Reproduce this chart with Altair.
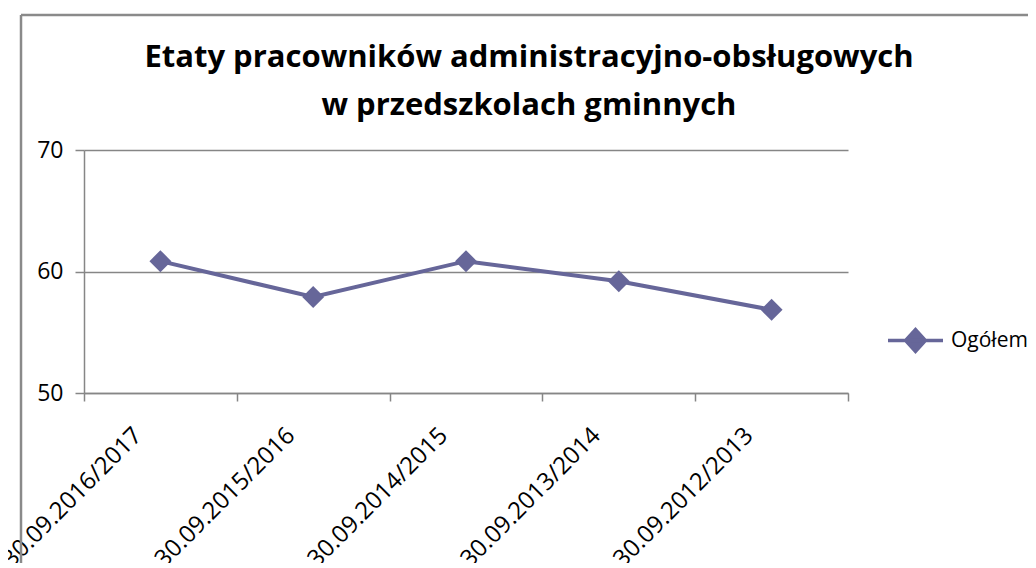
import altair as alt
import pandas as pd

categories = ["30.09.2016/2017", "30.09.2015/2016", "30.09.2014/2015",
              "30.09.2013/2014", "30.09.2012/2013"]
values = [60.85, 57.9, 60.85, 59.2, 56.85]
series_name = "Ogółem"
y_ticks = [50, 60, 70]
title_lines = ["Etaty pracowników administracyjno-obsługowych",
               "w przedszkolach gminnych"]

df = pd.DataFrame({"okres": categories, "etaty": values,
                   "seria": [series_name] * len(categories)})
frame_df = pd.DataFrame({"f": [0]})

GREY = "#868686"
COLOR = "#666699"
FONT = "Open Sans"
LEGEND_PATH = "M-1,0L1,0M-0.36,0L0,-0.4L0.36,0L0,0.4Z"

line = alt.Chart(df).mark_line(
    strokeWidth=4,
    point=alt.OverlayMarkDef(shape="diamond", size=480, filled=True, color=COLOR),
).encode(
    x=alt.X("okres:N", sort=categories,
            scale=alt.Scale(type="band", paddingInner=0, paddingOuter=0),
            axis=alt.Axis(title=None, labelAngle=-45, labelAlign="right",
                          labelBaseline="top", labelFontSize=24, labelFont=FONT,
                          labelColor="black", labelPadding=22, labelOffset=-31,
                          labelLimit=0,
                          tickBand="extent", tickSize=8, tickColor=GREY,
                          tickWidth=1.5, domainColor=GREY, domainWidth=1.5,
                          grid=False, labelOverlap=False)),
    y=alt.Y("etaty:Q", scale=alt.Scale(domain=[50, 70], nice=False, zero=False),
            axis=alt.Axis(title=None, values=y_ticks, labelFontSize=23,
                          labelFont=FONT, labelColor="black", labelPadding=12,
                          tickSize=9, tickColor=GREY, tickWidth=1.5,
                          domainColor=GREY, domainWidth=1.5, gridColor=GREY,
                          gridWidth=1.5, grid=True)),
    color=alt.Color("seria:N", scale=alt.Scale(domain=[series_name], range=[COLOR]),
                    legend=alt.Legend(title=None, orient="none", legendX=802,
                                      legendY=161, symbolType=LEGEND_PATH,
                                      symbolSize=3025, symbolStrokeWidth=3.5,
                                      symbolFillColor=COLOR, symbolStrokeColor=COLOR,
                                      labelFontSize=21, labelFont=FONT,
                                      labelColor="black", labelOffset=6, padding=0)),
)

frame_top = alt.Chart(frame_df).mark_rule(color="#8a8a8a", strokeWidth=2.5).encode(
    x=alt.value(-63), x2=alt.value(1000), y=alt.value(-135))
frame_left = alt.Chart(frame_df).mark_rule(color="#8a8a8a", strokeWidth=2.5).encode(
    x=alt.value(-63), y=alt.value(-135), y2=alt.value(600))

chart = alt.layer(frame_top, frame_left, line).properties(
    width=764, height=243,
    autosize=alt.AutoSizeParams(type="none"),
    padding={"left": 76, "top": 142, "right": 180, "bottom": 170},
    title=alt.TitleParams(text=title_lines, fontSize=31, font=FONT,
                          fontWeight="bold", color="black", anchor="middle",
                          frame="group", dx=63, offset=0, dy=108, lineHeight=48),
).configure_view(stroke="transparent")

chart.save("out.html", embed_options={"renderer": "svg", "actions": False})
